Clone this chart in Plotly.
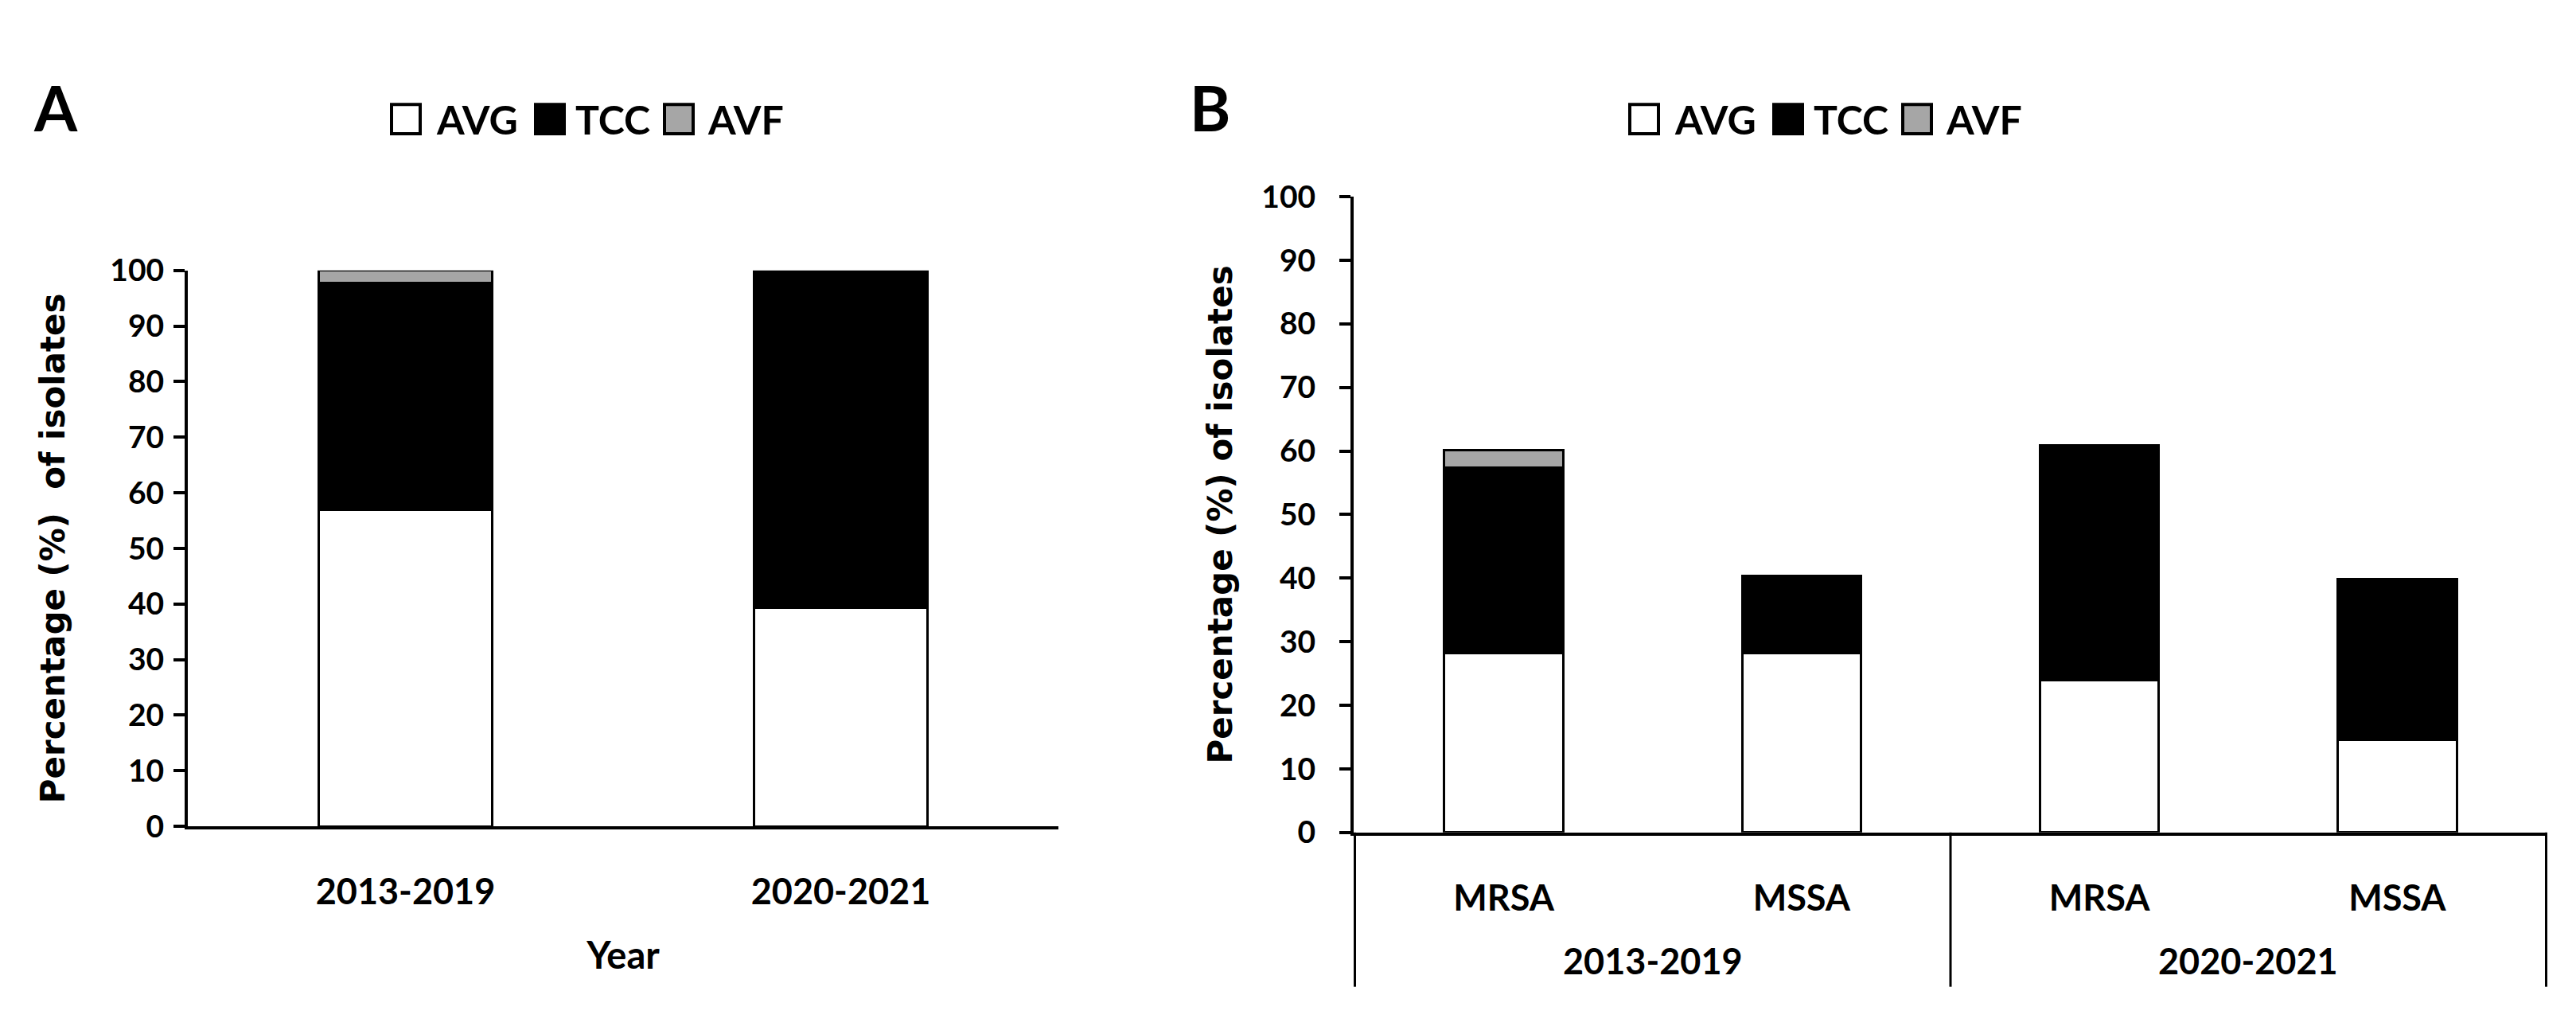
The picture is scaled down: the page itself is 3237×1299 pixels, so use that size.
import plotly.graph_objects as go

W, H = 3237, 1299

# ---------------- data ----------------
series = ["AVG", "TCC", "AVF"]
fills = ["#ffffff", "#000000", "#a6a6a6"]

years_a = ["2013-2019", "2020-2021"]
avg_a = [56.9, 39.3]
tcc_a = [40.8, 60.7]
avf_a = [2.3, None]

groups_b = ["2013-2019", "2013-2019", "2020-2021", "2020-2021"]
types_b = ["MRSA", "MSSA", "MRSA", "MSSA"]
avg_b = [28.2, 28.2, 23.9, 14.6]
tcc_b = [29.2, 12.2, 37.0, 25.2]
avf_b = [2.7, None, None, None]

y_ticks = list(range(0, 101, 10))

title_a = "Percentage (%)\u00a0 of isolates"
title_b = "Percentage (%) of isolates"
xtitle_a = "Year"

# ---------------- helpers ----------------
def px(x):
    return x / W


def py(y):
    return 1 - y / H


LAB = dict(family="Lato", color="black", weight="bold")
TITLE_FONT = dict(family="DejaVu Sans", size=42, color="black", weight="bold")

# unique category keys for panel B (group + type), labelled by type only
keys_b = [f"{g} {t}" for g, t in zip(groups_b, types_b)]

fig = go.Figure()

for name, fill, vals in zip(series, fills, [avg_a, tcc_a, avf_a]):
    fig.add_trace(go.Bar(
        x=years_a, y=vals, name=name, showlegend=False,
        marker=dict(color=fill, line=dict(color="black", width=3)),
        xaxis="x", yaxis="y",
    ))

for name, fill, vals in zip(series, fills, [avg_b, tcc_b, avf_b]):
    fig.add_trace(go.Bar(
        x=keys_b, y=vals, name=name, showlegend=False,
        marker=dict(color=fill, line=dict(color="black", width=3)),
        xaxis="x2", yaxis="y2",
    ))

yaxis_common = dict(
    range=[0, 100], tickvals=y_ticks, ticks="outside", ticklen=14, tickwidth=4,
    tickcolor="black", showline=True, linewidth=4, linecolor="black",
    showgrid=False, zeroline=False, tickfont=dict(LAB, size=39),
    fixedrange=True,
)

fig.update_layout(
    width=W, height=H,
    margin=dict(l=0, r=0, t=0, b=0),
    paper_bgcolor="white", plot_bgcolor="white",
    barmode="stack", bargap=0.6,
    xaxis=dict(
        domain=[px(228), px(1322)], anchor="y",
        showline=True, linewidth=4, linecolor="black", ticks="",
        tickfont=dict(LAB, size=45), ticklabelstandoff=40,
        title=dict(text=xtitle_a, font=dict(LAB, size=47), standoff=40),
    ),
    yaxis=dict(
        yaxis_common, domain=[py(1043), py(319)], anchor="x",
        ticklabelstandoff=4,
        title=dict(text=title_a, font=TITLE_FONT, standoff=45),
    ),
    xaxis2=dict(
        type="category", domain=[px(1693), px(3193)], anchor="y2",
        categoryorder="array", categoryarray=keys_b,
        tickvals=keys_b, ticktext=types_b,
        showline=True, linewidth=4, linecolor="black", ticks="",
        tickfont=dict(LAB, size=45), ticklabelstandoff=40,
    ),
    yaxis2=dict(
        yaxis_common, domain=[py(1051), py(223)], anchor="x2",
        ticklabelstandoff=22,
        title=dict(text=title_b, font=TITLE_FONT, standoff=25),
    ),
)

# ---------------- panel B group labels and dividers ----------------
group_names = list(dict.fromkeys(groups_b))
boundaries = [-0.5]
for gname in group_names:
    idx = [i for i, g in enumerate(groups_b) if g == gname]
    boundaries.append(max(idx) + 0.5)
    fig.add_annotation(
        text=gname, xref="x2", yref="paper",
        x=sum(idx) / len(idx), y=py(1218),
        xanchor="center", yanchor="middle", showarrow=False,
        font=dict(LAB, size=45),
    )
for b in boundaries:
    fig.add_shape(
        type="line", xref="x2", yref="paper",
        x0=b, x1=b, y0=py(1051), y1=py(1252),
        line=dict(color="black", width=3),
    )

# ---------------- custom legends (large square swatches) ----------------
legend_starts = [484, 2040]
sq_offsets = [0, 181, 343]
txt_offsets = [54, 229, 395]
sq_w, sq_h = 36, 38
leg_y = 122

for start in legend_starts:
    for name, fill, so, to in zip(series, fills, sq_offsets, txt_offsets):
        x0 = start + so
        fig.add_shape(
            type="rect", xref="paper", yref="paper",
            x0=px(x0), x1=px(x0 + sq_w), y0=py(leg_y + sq_h / 2), y1=py(leg_y - sq_h / 2),
            fillcolor=fill, line=dict(color="black", width=4),
        )
        fig.add_annotation(
            text=name, xref="paper", yref="paper", x=px(start + to), y=py(leg_y),
            xanchor="left", yanchor="middle", showarrow=False,
            font=dict(LAB, size=50),
        )

# ---------------- panel letters ----------------
for letter, cx in [("A", 62), ("B", 1512)]:
    fig.add_annotation(
        text=letter, xref="paper", yref="paper", x=px(cx), y=py(107),
        xanchor="center", yanchor="middle", showarrow=False,
        font=dict(LAB, size=78),
    )

fig.write_html("out.html")
